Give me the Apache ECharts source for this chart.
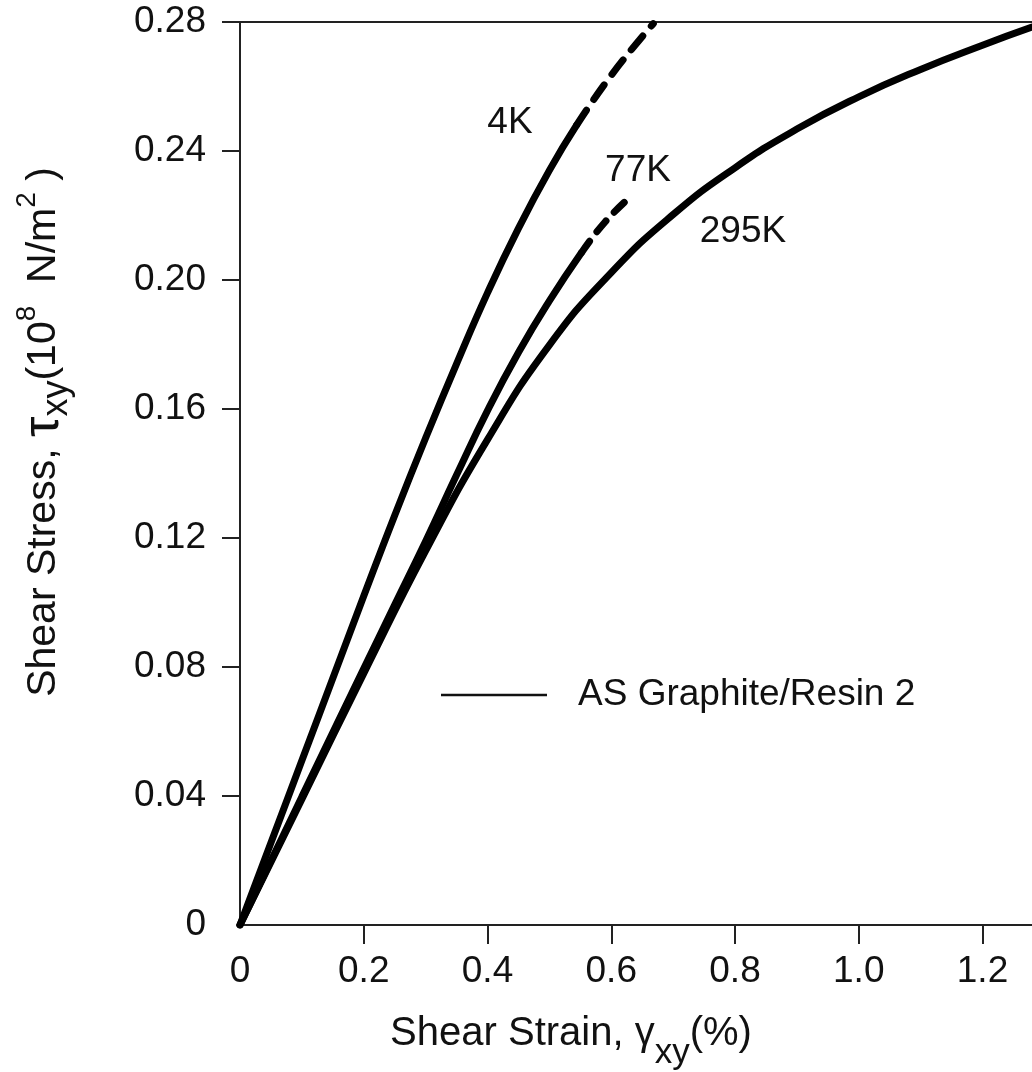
<!DOCTYPE html>
<html>
<head>
<meta charset="utf-8">
<script src="https://cdn.jsdelivr.net/npm/echarts@6/dist/echarts.min.js"></script>
<style>
html,body{margin:0;padding:0;background:#fff;}
#chart{width:1032px;height:1072px;}
</style>
</head>
<body>
<div id="chart"></div>
<script>
// ---- data ----
var strain4K      = [0, 0.05, 0.1, 0.15, 0.2, 0.25, 0.3, 0.35, 0.4, 0.45, 0.5, 0.544];
var stress4K      = [0, 0.0255, 0.051, 0.0765, 0.102, 0.127, 0.151, 0.174, 0.196, 0.216, 0.234, 0.248];
var strain4KDash  = [0.544, 0.6, 0.668];
var stress4KDash  = [0.248, 0.2635, 0.2795];

var strain77K     = [0, 0.1, 0.2, 0.25, 0.3, 0.35, 0.4, 0.45, 0.5, 0.552];
var stress77K     = [0, 0.0398, 0.0795, 0.0993, 0.119, 0.1395, 0.1595, 0.1775, 0.1935, 0.2085];
var strain77KDash = [0.552, 0.59, 0.635];
var stress77KDash = [0.2085, 0.218, 0.2265];

var strain295K    = [0, 0.1, 0.2, 0.3, 0.4, 0.5, 0.6, 0.7, 0.8, 0.9, 1.0, 1.1, 1.2, 1.28];
var stress295K    = [0, 0.039, 0.078, 0.116, 0.1505, 0.1798, 0.2023, 0.2203, 0.2348, 0.2468, 0.2568, 0.2653, 0.2728, 0.2784];

var xTickLabels = [0, 0.2, 0.4, 0.6, 0.8, 1.0, 1.2];
var xTicks      = [0.2, 0.4, 0.6, 0.8, 1.0, 1.2];
var yTickLabels = [0, 0.04, 0.08, 0.12, 0.16, 0.20, 0.24, 0.28];
var yTicks      = [0.04, 0.08, 0.12, 0.16, 0.20, 0.24, 0.28];

var curveLabels = ['4K', '77K', '295K'];
var legendText  = 'AS Graphite/Resin 2';

function pairs(xs, ys){ return xs.map(function(x,i){ return [x, ys[i]]; }); }

var FONT = "'Liberation Sans', Arial, Helvetica, sans-serif";
var INK = '#111';
var FS = 37;
var TFS = 40;

var chart = echarts.init(document.getElementById('chart'), null, {renderer:'canvas'});

function lineSeries(name, data, dashed, dash){
  return {
    name: name, type: 'line', data: data, showSymbol: false, symbol: 'none',
    smooth: 0.5, silent: true, animation: false,
    lineStyle: { color: '#000', width: 7, type: dashed ? dash : 'solid', cap: 'round', join: 'round' },
    z: 3
  };
}

var option = {
  backgroundColor: '#fff',
  animation: false,
  grid: { left: 240, right: 0, top: 22, bottom: 147, containLabel: false, outerBoundsMode: 'none' },
  xAxis: [{
    type: 'value', min: 0, max: 1.28, interval: 0.2, position: 'bottom',
    axisLine: { show: true, onZero: false, lineStyle: { color: '#222', width: 2 } },
    axisTick: { show: true, inside: false, length: 19, lineStyle: { color: '#222', width: 2 }, customValues: xTicks },
    axisLabel: { show: true, margin: 28, color: INK, fontFamily: FONT, fontSize: FS,
      customValues: xTickLabels,
      formatter: function(v){ return v === 0 ? '0' : v.toFixed(1); } },
    splitLine: { show: false }
  }, {
    type: 'value', min: 0, max: 1.28, position: 'top',
    axisLine: { show: true, onZero: false, lineStyle: { color: '#222', width: 2 } },
    axisTick: { show: false }, axisLabel: { show: false }, splitLine: { show: false }
  }],
  yAxis: [{
    type: 'value', min: 0, max: 0.28, interval: 0.04,
    axisLine: { show: true, onZero: false, lineStyle: { color: '#222', width: 2 } },
    axisTick: { show: true, inside: false, length: 18, lineStyle: { color: '#222', width: 2 }, customValues: yTicks },
    axisLabel: { show: true, margin: 34, color: INK, fontFamily: FONT, fontSize: FS,
      customValues: yTickLabels,
      formatter: function(v){ return v === 0 ? '0' : v.toFixed(2); } },
    splitLine: { show: false }
  }],
  series: [
    lineSeries('4K', pairs(strain4K, stress4K), false),
    lineSeries('4K ext', pairs(strain4KDash, stress4KDash), true, [18, 13]),
    lineSeries('77K', pairs(strain77K, stress77K), false),
    lineSeries('77K ext', pairs(strain77KDash, stress77KDash), true, [14, 12]),
    lineSeries('295K', pairs(strain295K, stress295K), false)
  ],
  graphic: [
    { type: 'text', x: 510, y: 123, style: { text: curveLabels[0], fill: INK, fontFamily: FONT, fontSize: FS, align: 'center', verticalAlign: 'middle' } },
    { type: 'text', x: 638, y: 171, style: { text: curveLabels[1], fill: INK, fontFamily: FONT, fontSize: FS, align: 'center', verticalAlign: 'middle' } },
    { type: 'text', x: 743, y: 232, style: { text: curveLabels[2], fill: INK, fontFamily: FONT, fontSize: FS, align: 'center', verticalAlign: 'middle' } },
    { type: 'line', shape: { x1: 441, y1: 695, x2: 547, y2: 695 }, style: { stroke: INK, lineWidth: 2.5 } },
    { type: 'text', x: 578, y: 695, style: { text: legendText, fill: INK, fontFamily: FONT, fontSize: FS, align: 'left', verticalAlign: 'middle' } },
    { type: 'text', x: 571, y: 1034,
      style: {
        text: '{n|Shear Strain, }{g|\u03b3}{s|xy}{n|(%)}',
        align: 'center', verticalAlign: 'middle', fill: INK,
        rich: {
          n: { fontFamily: FONT, fontSize: TFS, lineHeight: 74, verticalAlign: 'middle', fill: INK },
          g: { fontFamily: FONT, fontSize: TFS, lineHeight: 74, verticalAlign: 'middle', fill: INK },
          s: { fontFamily: FONT, fontSize: 35, verticalAlign: 'bottom', fill: INK }
        }
      } },
    { type: 'text', x: 44, y: 432, rotation: Math.PI / 2,
      style: {
        text: '{n|Shear Stress, }{t|\u03c4}{s|xy}{n|(10}{p|8}{n|  N/m}{p|2}{n| )}',
        align: 'center', verticalAlign: 'middle', fill: INK,
        rich: {
          n: { fontFamily: FONT, fontSize: 41, lineHeight: 62, verticalAlign: 'middle', fill: INK },
          t: { fontFamily: FONT, fontSize: 52, lineHeight: 62, verticalAlign: 'middle', fill: INK },
          s: { fontFamily: FONT, fontSize: 36, verticalAlign: 'bottom', fill: INK },
          p: { fontFamily: FONT, fontSize: 28, verticalAlign: 'top', fill: INK }
        }
      } }
  ]
};
chart.setOption(option);
</script>
</body>
</html>
